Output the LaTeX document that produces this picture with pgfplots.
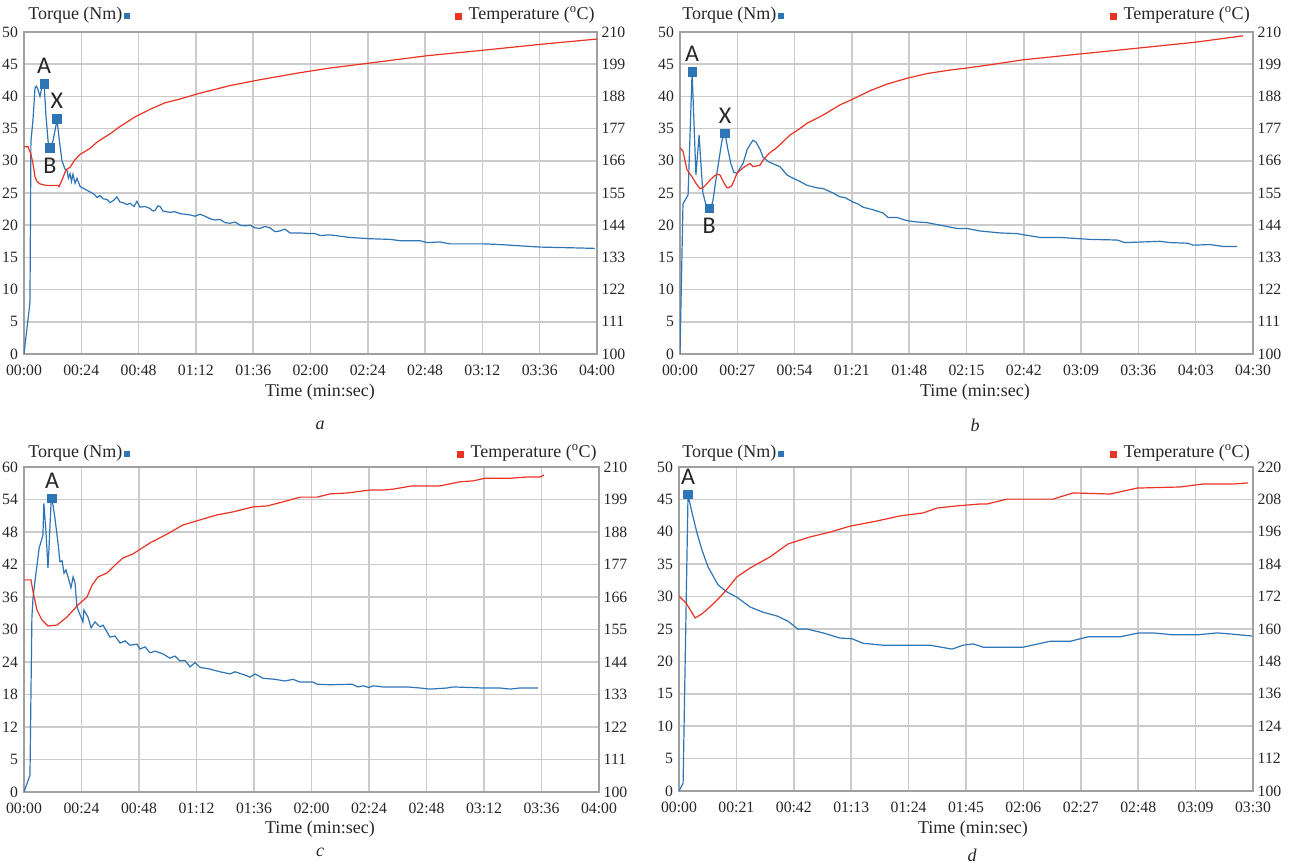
\documentclass[border=0pt]{standalone}
\usepackage{pgfplots}
\pgfplotsset{compat=1.18}
\usepackage{fontspec}
\setmainfont{Liberation Serif}
\newfontfamily\lblfont{Carlito}
\definecolor{tq}{RGB}{46,117,182}
\definecolor{tp}{RGB}{235,51,36}
\definecolor{gridc}{RGB}{203,203,203}
\definecolor{framec}{RGB}{160,160,160}
\pgfplotsset{
  panel/.style={scale only axis, anchor=south west,
    axis line style={draw=framec, line width=0.9pt},
    grid=major, grid style={draw=gridc, line width=1.1pt},
    major tick length=0pt,
    tick label style={font=\rmfamily\fontsize{11.8}{13}\selectfont, text=black!85},
    xticklabel style={yshift=-5pt}, yticklabel style={xshift=-1pt}},
  tempax/.style={scale only axis, anchor=south west, axis x line=none, axis y line*=right,
    axis line style={draw=framec, line width=0.9pt}, major tick length=0pt,
    tick label style={font=\rmfamily\fontsize{11.8}{13}\selectfont, text=black!85}, xmin=0},
  tqline/.style={color=tq, line width=0.9pt, mark=none},
  tpline/.style={color=tp, line width=0.9pt, mark=none},
  ptA/.style={only marks, mark=square*, mark size=3.2pt, color=tq,
    point meta=explicit symbolic, nodes near coords,
    nodes near coords style={font=\lblfont\fontsize{18}{18}\selectfont, text=black!85, anchor=south, yshift=4pt}},
  ptB/.style={only marks, mark=square*, mark size=3.2pt, color=tq,
    point meta=explicit symbolic, nodes near coords,
    nodes near coords style={font=\lblfont\fontsize{18}{18}\selectfont, text=black!85, anchor=north, yshift=-4pt}},
}
\newcommand{\ttl}{\fontsize{13.5}{15}\selectfont}
\newcommand{\tqtitle}{Torque (Nm)\hspace{1pt}\textcolor{tq}{\rule{5pt}{5pt}}}
\newcommand{\tptitle}{\textcolor{tp}{\rule{5pt}{5pt}}\hspace{5pt}Temperature (\textsuperscript{o}C)}
\begin{document}
\begin{tikzpicture}
\useasboundingbox (0,0) rectangle (974.25pt,-648pt);
% ---------------- panel a ----------------
\begin{axis}[panel, at={(18pt,-265.5pt)}, width=429.75pt, height=241.5pt,
  xmin=0, xmax=240, ymin=0, ymax=50,
  xtick={0,24,...,240}, xticklabels={00:00,00:24,00:48,01:12,01:36,02:00,02:24,02:48,03:12,03:36,04:00},
  ytick={0,5,...,50}, yticklabels={0,5,10,15,20,25,30,35,40,45,50}]
\addplot[tqline] coordinates {(0,0)(2.5,8)(2.9,33)(3.8,36.5)(4.6,41.3)(5.2,41.6)(5.9,41.0)(6.7,40.0)(7.5,41.5)(8.4,42.0)(9.2,37)(10.1,33)(10.9,32.0)(12.1,33.0)(13.4,35.5)(13.8,36.5)(14.7,33.5)(15.9,30.0)(17.2,28.7)(18.0,28.5)(18.6,27.3)(19.3,28.0)(19.9,26.8)(20.5,27.9)(21.4,26.5)(22.2,27.3)(23.5,26.0)(25.5,25.6)(28.5,25.0)(29.7,24.7)(30.6,24.3)(31.8,24.6)(33.1,24.1)(34.8,24.0)(36.0,23.5)(37.7,23.9)(38.9,24.4)(40.2,23.6)(41.5,23.5)(43.1,23.2)(44.4,23.4)(46.1,22.9)(47.3,23.7)(48.6,22.8)(50.7,22.9)(52.8,22.6)(54.0,22.2)(54.9,22.3)(56.1,23.0)(57.0,22.9)(58.2,22.2)(61.1,22.0)(63.2,22.1)(65.3,21.8)(69.5,21.6)(71.6,21.4)(73.7,21.7)(75.8,21.4)(77.9,21.0)(80.0,20.8)(82.1,20.9)(84.2,20.4)(86.3,20.3)(88.4,20.5)(90.5,20.0)(92.6,19.9)(94.7,20.0)(96.7,19.6)(98.8,19.5)(100.9,19.8)(103.0,19.6)(105.1,19.0)(107.2,19.1)(109.3,19.4)(111.4,18.8)(115.6,18.8)(119.8,18.7)(121.9,18.7)(124.0,18.4)(128.2,18.5)(132.3,18.3)(136.5,18.1)(140.7,18.0)(144.9,17.9)(153.3,17.8)(157.5,17.6)(165.8,17.6)(168.8,17.3)(174.2,17.4)(178.4,17.1)(192.6,17.1)(199.3,17.0)(207.7,16.8)(216.5,16.6)(228.7,16.5)(239.1,16.4)};
\addplot[ptA] coordinates {(8.4,42.0)[A] (13.8,36.5)[X]};
\addplot[ptB] coordinates {(10.9,32.0)[B]};
\end{axis}
\begin{axis}[tempax, at={(18pt,-265.5pt)}, width=429.75pt, height=241.5pt,
  xmax=240, ymin=100, ymax=210, ytick={100,111,...,210},
  yticklabels={100,111,122,133,144,155,166,177,188,199,210}]
\addplot[tpline] coordinates {(0,170.8)(1.7,170.8)(2.9,168.2)(3.8,164.9)(4.6,160.5)(5.4,159.0)(6.7,158.1)(9.2,157.6)(14.2,157.6)(14.7,157.2)(15.9,159.4)(17.6,162.9)(19.3,163.8)(21.4,166.4)(23.5,168.2)(27.6,170.2)(30.6,172.4)(36.0,175.2)(40.2,177.7)(46.5,181.0)(52.8,183.6)(59.0,185.8)(65.3,187.1)(73.7,189.1)(86.3,191.7)(98.8,193.7)(115.6,196.1)(128.2,197.7)(144.9,199.4)(168.8,201.9)(192.6,203.8)(216.5,205.8)(240,207.6)};
\end{axis}
% ---------------- panel b ----------------
\begin{axis}[panel, at={(510pt,-265.5pt)}, width=429.75pt, height=241.5pt,
  xmin=0, xmax=270, ymin=0, ymax=50,
  xtick={0,27,...,270}, xticklabels={00:00,00:27,00:54,01:21,01:48,02:15,02:42,03:09,03:36,04:03,04:30},
  ytick={0,5,...,50}, yticklabels={0,5,10,15,20,25,30,35,40,45,50}]
\addplot[tqline] coordinates {(0,0)(1.4,23.3)(3.8,24.7)(5.7,43.8)(7.5,27.8)(9.0,34.0)(9.9,29.3)(10.8,25.0)(12.7,22.6)(13.7,22.6)(14.6,22.6)(15.6,24.0)(17.4,28.1)(19.8,33.2)(21.2,34.3)(22.6,31.7)(24.0,29.5)(25.4,28.2)(26.9,28.1)(29.7,29.6)(31.6,31.7)(33.0,32.5)(34.4,33.2)(35.8,32.9)(37.7,31.8)(39.1,30.6)(41.5,29.9)(44.8,29.4)(47.1,29.1)(50.4,27.8)(53.2,27.3)(56.5,26.8)(59.8,26.2)(64.6,25.8)(67.4,25.7)(72.1,25.0)(75.4,24.4)(77.7,24.3)(81.5,23.6)(83.9,23.3)(86.2,22.8)(90.9,22.4)(95.7,21.9)(98.0,21.2)(102.3,21.2)(107.0,20.7)(111.7,20.5)(116.4,20.4)(125.8,19.8)(130.5,19.5)(135.2,19.5)(141.4,19.1)(150.8,18.8)(158.8,18.7)(162.1,18.5)(169.6,18.1)(179.1,18.1)(188.5,17.9)(193.2,17.8)(205.9,17.7)(209.7,17.3)(226.2,17.5)(230.9,17.3)(239.4,17.2)(241.7,16.9)(249.7,17.0)(255.9,16.7)(262.5,16.7)};
\addplot[ptA] coordinates {(5.7,43.8)[A] (21.2,34.3)[X]};
\addplot[ptB] coordinates {(13.7,22.6)[B]};
\end{axis}
\begin{axis}[tempax, at={(510pt,-265.5pt)}, width=429.75pt, height=241.5pt,
  xmax=270, ymin=100, ymax=210, ytick={100,111,...,210},
  yticklabels={100,111,122,133,144,155,166,177,188,199,210}]
\addplot[tpline] coordinates {(0,170.4)(1.4,169.3)(3.3,162.9)(5.7,160.5)(7.5,158.3)(9.4,156.5)(10.8,156.8)(12.3,157.9)(14.1,159.4)(16.0,160.7)(17.4,161.4)(18.8,161.2)(20.3,159.0)(22.1,156.8)(23.1,156.8)(24.5,157.6)(26.9,161.8)(29.7,163.6)(33.0,165.1)(34.4,164.0)(37.7,164.5)(39.1,166.2)(41.5,168.2)(43.3,169.3)(44.8,170.0)(47.1,171.5)(51.8,174.8)(55.1,176.3)(59.8,178.8)(67.4,181.6)(75.4,185.1)(81.5,187.1)(89.5,189.9)(97.5,192.2)(107.0,194.2)(116.4,195.8)(127.2,197.0)(135.2,197.7)(146.1,198.8)(161.6,200.5)(188.5,202.5)(215.8,204.5)(242.7,206.5)(265.3,208.7)};
\end{axis}
% ---------------- panel c ----------------
\begin{axis}[panel, at={(18pt,-594pt)}, width=431.25pt, height=243.75pt,
  xmin=0, xmax=240, ymin=0, ymax=60,
  xtick={0,24,...,240}, xticklabels={00:00,00:24,00:48,01:12,01:36,02:00,02:24,02:48,03:12,03:36,04:00},
  ytick={0,6,...,60}, yticklabels={0,5,12,18,24,30,36,42,48,54,60}]
\addplot[tqline] coordinates {(0,0)(2.5,3.1)(2.9,18)(3.3,32.3)(3.8,36)(5.0,40.4)(6.3,45)(7.9,47.4)(8.3,53.3)(9.2,47.8)(10.0,41.4)(10.4,44.7)(11.3,53.5)(11.7,54.2)(12.9,50.6)(14.2,46.0)(15.0,42.5)(15.9,42.7)(16.7,40.4)(17.5,41.0)(18.4,39.7)(19.6,37.7)(20.5,39.7)(21.3,38.6)(22.1,34.2)(23.4,32.7)(24.6,31.4)(25.0,33.6)(26.7,32.3)(28.0,30.3)(29.6,31.4)(31.7,30.5)(33.0,30.8)(35.9,28.6)(38.0,28.8)(40.1,27.5)(42.2,27.9)(44.2,27.1)(47.2,27.3)(48.4,26.4)(50.5,26.8)(52.6,25.7)(54.7,26.0)(58.0,25.5)(60.9,24.7)(63.0,25.1)(65.1,24.2)(67.2,24.3)(69.3,23.1)(71.4,23.9)(73.5,23.0)(77.6,22.7)(81.8,22.2)(86.0,21.8)(88.1,22.2)(92.2,21.6)(94.3,21.2)(96.4,21.8)(99.8,21.0)(104.8,20.8)(108.9,20.5)(112.3,20.8)(115.2,20.3)(120.6,20.3)(122.3,19.9)(127.7,19.8)(136.9,19.9)(139.4,19.4)(141.5,19.6)(144.0,19.3)(145.7,19.6)(149.8,19.4)(159.9,19.4)(165.3,19.2)(169.5,19.0)(176.6,19.2)(179.1,19.4)(191.6,19.2)(198.7,19.2)(202.9,19.0)(207.0,19.2)(214.5,19.2)};
\addplot[ptA] coordinates {(11.7,54.2)[A]};
\end{axis}
\begin{axis}[tempax, at={(18pt,-594pt)}, width=431.25pt, height=243.75pt,
  xmax=240, ymin=100, ymax=210, ytick={100,111,...,210},
  yticklabels={100,111,122,133,144,155,166,177,188,199,210}]
\addplot[tpline] coordinates {(0,171.8)(2.9,171.8)(3.8,167.7)(5.4,161.6)(7.5,158.2)(10.0,156.2)(13.8,156.5)(17.9,159.2)(22.5,163.3)(26.3,166.0)(28.4,170.0)(30.9,172.8)(34.6,174.1)(38.0,176.8)(41.3,179.2)(45.5,180.6)(52.6,184.3)(59.7,187.3)(66.4,190.4)(73.5,192.1)(80.6,193.8)(87.2,194.8)(95.6,196.5)(101.4,196.8)(108.1,198.2)(115.2,199.8)(122.3,199.8)(127.7,200.9)(134.8,201.2)(144.4,202.2)(149.8,202.2)(154.0,202.5)(161.9,203.6)(173.6,203.6)(182.0,205.0)(187.4,205.3)(192.4,206.2)(202.9,206.2)(209.9,206.6)(215.4,206.6)(217.0,207.3)};
\end{axis}
% ---------------- panel d ----------------
\begin{axis}[panel, at={(509.25pt,-593.25pt)}, width=430.5pt, height=243pt,
  xmin=0, xmax=210, ymin=0, ymax=50,
  xtick={0,21,...,210}, xticklabels={00:00,00:21,00:42,01:13,01:24,01:45,02:06,02:27,02:48,03:09,03:30},
  ytick={0,5,...,50}, yticklabels={0,5,10,15,20,25,30,35,40,45,50}]
\addplot[tqline] coordinates {(0,0)(1.5,1.2)(3.3,45.7)(4.8,42.9)(6.6,39.8)(8.4,37.2)(10.6,34.6)(14.3,31.8)(17.6,30.7)(21.2,29.9)(26.0,28.4)(30.7,27.6)(35.9,27.0)(39.9,26.2)(43.5,25.0)(46.8,25.0)(52.7,24.4)(58.9,23.6)(63.3,23.5)(67.3,22.8)(74.6,22.5)(91.8,22.5)(99.9,21.9)(103.9,22.5)(107.6,22.7)(111.2,22.2)(125.9,22.2)(135.7,23.1)(143.1,23.1)(149.7,23.8)(161.4,23.8)(168.3,24.4)(173.4,24.4)(180.8,24.1)(189.5,24.1)(196.9,24.4)(202.7,24.2)(210.0,23.9)};
\addplot[ptA] coordinates {(3.3,45.8)[A]};
\end{axis}
\begin{axis}[tempax, at={(509.25pt,-593.25pt)}, width=430.5pt, height=243pt,
  xmax=210, ymin=100, ymax=220, ytick={100,112,...,220},
  yticklabels={100,112,124,136,148,160,172,184,196,208,220}]
\addplot[tpline] coordinates {(0,172.2)(2.6,169.6)(5.9,164.1)(8.4,165.6)(12.1,168.9)(15.7,172.6)(17.9,175.2)(21.2,179.3)(26.0,182.6)(33.3,186.7)(39.9,191.5)(47.9,194.1)(55.3,195.9)(62.6,198.1)(72.4,200.0)(80.9,201.9)(89.3,203.0)(94.4,204.8)(101.7,205.6)(110.1,206.3)(112.7,206.3)(120.0,208.1)(136.8,208.1)(144.2,210.4)(157.7,210.0)(167.6,212.2)(183.3,212.6)(191.7,213.7)(202.7,213.7)(208.2,214.1)};
\end{axis}
% ---------------- titles and captions ----------------
\begin{scope}[every node/.style={text=black!85, inner sep=0pt}]
\node[anchor=west, font=\ttl] at (21pt,-11.25pt) {\tqtitle};
\node[anchor=east, font=\ttl] at (446.25pt,-11.25pt) {\tptitle};
\node[anchor=west, font=\ttl] at (511.5pt,-11.25pt) {\tqtitle};
\node[anchor=east, font=\ttl] at (937.5pt,-11.25pt) {\tptitle};
\node[anchor=west, font=\ttl] at (21pt,-339.75pt) {\tqtitle};
\node[anchor=east, font=\ttl] at (447.75pt,-339.75pt) {\tptitle};
\node[anchor=west, font=\ttl] at (511.5pt,-339.75pt) {\tqtitle};
\node[anchor=east, font=\ttl] at (937.5pt,-339.75pt) {\tptitle};
\node[font=\ttl] at (240pt,-294pt) {Time (min:sec)};
\node[font=\ttl] at (731.25pt,-294pt) {Time (min:sec)};
\node[font=\ttl] at (240pt,-621.75pt) {Time (min:sec)};
\node[font=\ttl] at (729.75pt,-621.75pt) {Time (min:sec)};
\node[font=\ttl\itshape] at (240pt,-318.75pt) {a};
\node[font=\ttl\itshape] at (731.25pt,-318.75pt) {b};
\node[font=\ttl\itshape] at (240pt,-639pt) {c};
\node[font=\ttl\itshape] at (729pt,-641.25pt) {d};
\end{scope}
\end{tikzpicture}
\end{document}
